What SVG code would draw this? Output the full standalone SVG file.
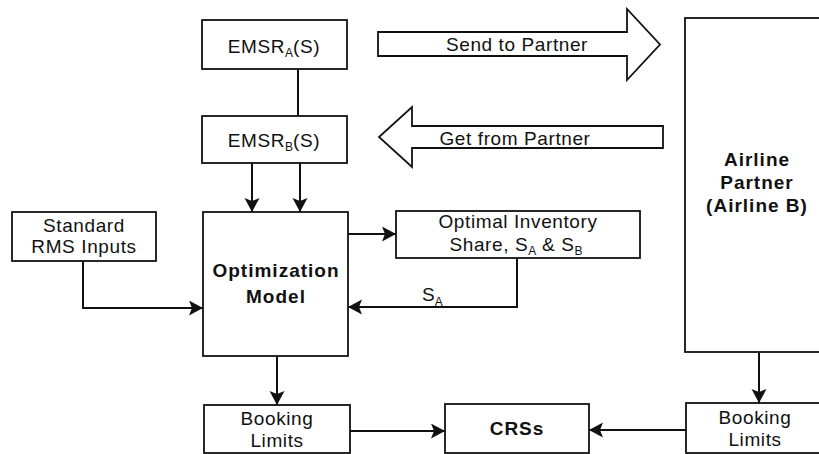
<svg xmlns="http://www.w3.org/2000/svg" width="819" height="454" viewBox="0 0 819 454">
<style>
.box{fill:#fff;stroke:#111;stroke-width:1.8}
.big{fill:#fff;stroke:#111;stroke-width:1.8}
.t{font-family:"Liberation Sans",Arial,sans-serif;font-size:19px;letter-spacing:0.6px;fill:#111;text-anchor:middle}
.b{font-weight:bold;letter-spacing:1px}
.sub{font-size:12px;letter-spacing:0}
.c{fill:none;stroke:#111;stroke-width:2}
.ca{fill:none;stroke:#111;stroke-width:2;marker-end:url(#ah)}
</style>
<defs>
<marker id="ah" markerWidth="16" markerHeight="16" refX="14" refY="7.5" orient="auto" markerUnits="userSpaceOnUse">
<path d="M0,0 L14,7.5 L0,15 L3,7.5 z" fill="#111"/>
</marker>
</defs>
<rect width="819" height="454" fill="#fff"/>

<g id="emsr-a">
<rect class="box" x="202" y="20" width="145" height="49"/>
<text class="t" x="274" y="53">EMSR<tspan class="sub" dy="4">A</tspan><tspan dy="-4">(S)</tspan></text>
</g>

<g id="emsr-b">
<rect class="box" x="202" y="116" width="145" height="47"/>
<text class="t" x="274" y="147">EMSR<tspan class="sub" dy="4">B</tspan><tspan dy="-4">(S)</tspan></text>
</g>

<g id="send-to-partner">
<polygon class="box" points="378,32 627,32 627,9 660,44.5 627,80 627,56 378,56"/>
<text class="t" x="517" y="51">Send to Partner</text>
</g>

<g id="get-from-partner">
<polygon class="box" points="663,126 412,126 412,107 379,137 412,167 412,148 663,148"/>
<text class="t" x="515" y="145">Get from Partner</text>
</g>

<g id="airline-partner">
<rect class="big" x="685" y="18" width="160" height="334"/>
<text class="t b" x="757" y="166">Airline</text>
<text class="t b" x="757" y="189">Partner</text>
<text class="t b" x="757" y="212">(Airline B)</text>
</g>

<g id="standard-rms">
<rect class="box" x="12" y="212" width="144" height="49"/>
<text class="t" x="84" y="232">Standard</text>
<text class="t" x="84" y="253">RMS Inputs</text>
</g>

<g id="optimization-model">
<rect class="box" x="203" y="212" width="145" height="144"/>
<text class="t b" x="276" y="277">Optimization</text>
<text class="t b" x="276" y="303">Model</text>
</g>

<g id="optimal-share">
<rect class="box" x="396" y="211" width="244" height="47"/>
<text class="t" x="518" y="228">Optimal Inventory</text>
<text class="t" x="516" y="251">Share, S<tspan class="sub" dy="4">A</tspan><tspan dy="-4"> &amp; S</tspan><tspan class="sub" dy="4">B</tspan></text>
</g>

<g id="booking-limits-a">
<rect class="box" x="204" y="405" width="146" height="48"/>
<text class="t" x="277" y="425">Booking</text>
<text class="t" x="277" y="447">Limits</text>
</g>

<g id="crss">
<rect class="box" x="445" y="404" width="144" height="49"/>
<text class="t b" x="517" y="435">CRSs</text>
</g>

<g id="booking-limits-b">
<rect class="box" x="686" y="403" width="150" height="50"/>
<text class="t" x="755" y="424">Booking</text>
<text class="t" x="755" y="446">Limits</text>
</g>

<g id="connectors">
<line class="c" x1="298" y1="69" x2="298" y2="116"/>
<line class="ca" x1="252" y1="163" x2="252" y2="212"/>
<line class="ca" x1="300" y1="163" x2="300" y2="212"/>
<polyline class="ca" points="83,261 83,308 203,308"/>
<line class="ca" x1="348" y1="234" x2="396" y2="234"/>
<polyline class="ca" points="517,258 517,307 348,307"/>
<text class="t" x="422" y="301" style="text-anchor:start;letter-spacing:0">S<tspan class="sub" dy="5">A</tspan></text>
<line class="ca" x1="277" y1="356" x2="277" y2="405"/>
<line class="ca" x1="350" y1="431" x2="445" y2="431"/>
<line class="ca" x1="686" y1="430" x2="589" y2="430"/>
<line class="ca" x1="759" y1="352" x2="759" y2="403"/>
</g>
</svg>
